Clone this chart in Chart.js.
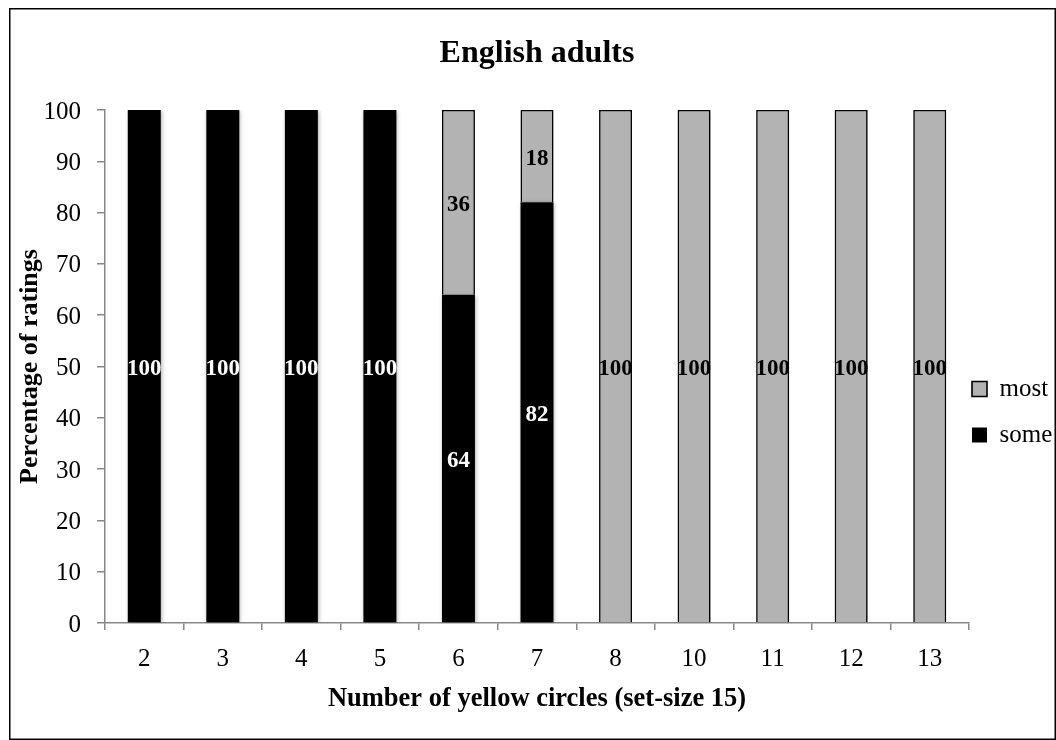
<!DOCTYPE html>
<html>
<head>
<meta charset="utf-8">
<title>English adults</title>
<script src="https://cdn.jsdelivr.net/npm/chart.js@4.4.1/dist/chart.umd.min.js"></script>
<style>
  html, body { margin: 0; padding: 0; background: #ffffff; }
  canvas { display: block; }
</style>
</head>
<body>
<canvas id="chart" width="1056" height="740"></canvas>
<script>
// Number of yellow circles shown (set-size 15)
const categories = ['2', '3', '4', '5', '6', '7', '8', '10', '11', '12', '13'];
// Percentage of "some" ratings per display
const someValues = [100, 100, 100, 100, 64, 82, 0, 0, 0, 0, 0];
// Percentage of "most" ratings per display
const mostValues = [0, 0, 0, 0, 36, 18, 100, 100, 100, 100, 100];
// Value axis range and step
const yMin = 0;
const yMax = 100;
const yStep = 10;

const SERIF = "'Liberation Serif', 'Times New Roman', Times, serif";
const W = 1056, H = 740;
const PLOT = { left: 105, right: 969, top: 110, bottom: 623 };
const AXIS_GREY = '#878787';
const BAR_GREY = '#b3b3b3';

// Outer frame around the whole figure
const framePlugin = {
  id: 'frame',
  beforeDraw(chart) {
    const ctx = chart.ctx;
    ctx.save();
    ctx.fillStyle = '#ffffff';
    ctx.fillRect(0, 0, W, H);
    ctx.restore();
  },
  afterDraw(chart) {
    const ctx = chart.ctx;
    ctx.save();
    ctx.strokeStyle = '#000000';
    ctx.lineWidth = 1.5;
    ctx.strokeRect(9.75, 8.75, W - 10.5, H - 9.5);
    ctx.restore();
  }
};

// Soft drop shadow under the bars, then value labels centred in each segment
const barDecorPlugin = {
  id: 'barDecor',
  beforeDatasetsDraw(chart) {
    const ctx = chart.ctx;
    ctx.save();
    ctx.shadowColor = 'rgba(0,0,0,0.30)';
    ctx.shadowBlur = 4;
    ctx.shadowOffsetX = 1;
    ctx.shadowOffsetY = 1;
  },
  afterDatasetsDraw(chart) {
    const ctx = chart.ctx;
    ctx.restore();
    ctx.save();
    ctx.font = "bold 23px " + SERIF;
    ctx.textAlign = 'center';
    ctx.textBaseline = 'middle';
    chart.data.datasets.forEach((ds, di) => {
      const meta = chart.getDatasetMeta(di);
      meta.data.forEach((bar, i) => {
        const v = ds.data[i];
        if (!v) return;
        const p = bar.getProps(['x', 'y', 'base'], true);
        ctx.fillStyle = ds.labelColor;
        ctx.fillText(String(v), p.x, (p.y + p.base) / 2 + 3);
      });
    });
    ctx.restore();
  }
};

// Keep the legend tucked against the end of the category axis
const legendPlacePlugin = {
  id: 'legendPlace',
  afterLayout(chart) {
    const lg = chart.legend;
    if (!lg) return;
    const dx = -18, dy = 42;
    lg.left += dx;
    lg.top += dy; lg.bottom += dy;
  }
};

new Chart(document.getElementById('chart'), {
  type: 'bar',
  data: {
    labels: categories,
    datasets: [
      {
        label: 'some',
        data: someValues,
        backgroundColor: '#000000',
        borderColor: '#000000',
        borderWidth: 0,
        labelColor: '#ffffff'
      },
      {
        label: 'most',
        data: mostValues,
        backgroundColor: BAR_GREY,
        borderColor: '#000000',
        borderWidth: 1.6,
        labelColor: '#000000'
      }
    ]
  },
  plugins: [framePlugin, barDecorPlugin, legendPlacePlugin],
  options: {
    responsive: false,
    animation: false,
    devicePixelRatio: 1,
    layout: { padding: 0 },
    datasets: {
      bar: { categoryPercentage: 1.0, barPercentage: 0.42 }
    },
    plugins: {
      title: {
        display: true,
        fullSize: false,
        text: 'English adults',
        color: '#000000',
        font: { family: SERIF, size: 32, weight: 'bold' },
        padding: { top: 35, bottom: 36.6 }
      },
      legend: {
        display: true,
        position: 'right',
        align: 'center',
        reverse: true,
        maxWidth: W - PLOT.right,
        labels: {
          color: '#000000',
          font: { family: SERIF, size: 25 },
          boxWidth: 15,
          boxHeight: 15,
          padding: 21
        }
      },
      tooltip: { enabled: false }
    },
    scales: {
      x: {
        type: 'category',
        stacked: true,
        offset: true,
        afterFit(scale) { scale.height = H - PLOT.bottom; },
        grid: {
          offset: true,
          drawOnChartArea: false,
          drawTicks: true,
          tickLength: 7,
          color: AXIS_GREY,
          lineWidth: 1.5
        },
        border: { display: true, color: AXIS_GREY, width: 1.5 },
        ticks: {
          color: '#000000',
          font: { family: SERIF, size: 25 },
          padding: 14,
          maxRotation: 0,
          autoSkip: false
        },
        title: {
          display: true,
          text: 'Number of yellow circles (set-size 15)',
          color: '#000000',
          font: { family: SERIF, size: 26.5, weight: 'bold' },
          padding: { top: 0, bottom: 25 }
        }
      },
      y: {
        stacked: true,
        min: yMin,
        max: yMax,
        afterFit(scale) { scale.width = PLOT.left; },
        grid: {
          drawOnChartArea: false,
          drawTicks: true,
          tickLength: 8,
          color: AXIS_GREY,
          lineWidth: 1.5
        },
        border: { display: true, color: AXIS_GREY, width: 1.5 },
        ticks: {
          stepSize: yStep,
          color: '#000000',
          font: { family: SERIF, size: 25 },
          padding: 16,
          labelOffset: 2
        },
        title: {
          display: true,
          text: 'Percentage of ratings',
          color: '#000000',
          font: { family: SERIF, size: 26, weight: 'bold' },
          padding: { top: 15, bottom: 0 }
        }
      }
    }
  }
});
</script>
</body>
</html>
